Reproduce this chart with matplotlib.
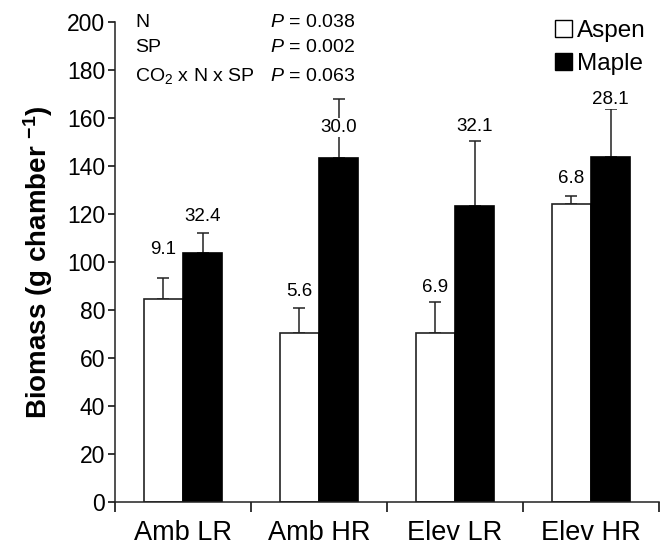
import numpy as np
import matplotlib
matplotlib.use("Agg")
import matplotlib.pyplot as plt
from matplotlib.patches import Patch

plt.rcParams['font.family'] = ['Liberation Sans', 'DejaVu Sans']
plt.rcParams['mathtext.fontset'] = 'custom'
plt.rcParams['mathtext.rm'] = 'Liberation Sans'
plt.rcParams['mathtext.it'] = 'Liberation Sans:italic'
plt.rcParams['mathtext.bf'] = 'Liberation Sans:bold'

# data
categorias = ["Amb LR", "Amb HR", "Elev LR", "Elev HR"]
aspen = [84.5, 70.5, 70.5, 124.0]
aspen_err = [9.0, 10.2, 12.8, 3.6]
maple = [103.8, 143.2, 123.3, 143.7]
maple_err = [8.2, 24.8, 27.2, 20.2]
aspen_txt = ["9.1", "5.6", "6.9", "6.8"]
maple_txt = ["32.4", "30.0", "32.1", "28.1"]
aspen_txt_y = [105, 87.5, 89.5, 134.7]
maple_txt_y = [118.8, 156, 156.4, 167.6]
stats_nombre = ["N", "SP", "CO$_2$ x N x SP"]
stats_p = ["0.038", "0.002", "0.063"]

fig = plt.figure(figsize=(6.67, 5.46), dpi=100)
ax = fig.add_axes([0.1724, 0.0806, 0.8156, 0.8791])

x = np.arange(len(categorias))
w = 0.29
ax.bar(x - w/2, aspen, w, color="white", edgecolor="#222222", linewidth=1.2, zorder=2)
ax.bar(x + w/2, maple, w, color="black", edgecolor="black", linewidth=1.2, zorder=2)
ax.errorbar(x - w/2, aspen, yerr=[np.zeros(4), aspen_err], fmt="none",
            ecolor="#222222", elinewidth=1.1, capsize=4, capthick=1.1, zorder=1)
ax.errorbar(x + w/2, maple, yerr=[np.zeros(4), maple_err], fmt="none",
            ecolor="#222222", elinewidth=1.1, capsize=4, capthick=1.1, zorder=1)

for i in range(4):
    ax.text(x[i] - w/2, aspen_txt_y[i], aspen_txt[i], ha="center", va="center", fontsize=13.5)
    ax.text(x[i] + w/2, maple_txt_y[i], maple_txt[i], ha="center", va="center", fontsize=13.5,
            bbox=dict(facecolor="white", edgecolor="none", pad=0.5), zorder=3)

# stats text
ys = [200, 189.5, 177.5]
for i in range(3):
    ax.text(0.037, ys[i], stats_nombre[i], transform=ax.get_yaxis_transform(),
            ha="left", va="center", fontsize=14)
    ax.text(0.441, ys[i], "$P$ = " + stats_p[i], transform=ax.get_yaxis_transform(),
            ha="right", va="center", fontsize=14)

ax.set_xlim(-0.5, 3.5)
ax.set_ylim(0, 200)
ax.set_yticks(np.arange(0, 201, 20))
ax.set_xticks(x)
ax.set_xticklabels(categorias, fontsize=19.5)
ax.set_xticks(np.arange(-0.5, 3.6, 1), minor=True)
ax.tick_params(axis="x", which="major", length=0, pad=13)
ax.tick_params(axis="x", which="minor", length=7, width=1.1, direction="out")
ax.tick_params(axis="y", labelsize=16.5, length=5, width=1.1, direction="out", pad=2)
for s in ["top", "right"]:
    ax.spines[s].set_visible(False)
for s in ["left", "bottom"]:
    ax.spines[s].set_linewidth(1.1)
    ax.spines[s].set_color("#222222")

ax.set_ylabel(r"Biomass (g chamber $^{\mathbf{-1}}$)", fontsize=20, fontweight="bold", labelpad=9)

handles = [Patch(facecolor="white", edgecolor="black", linewidth=1),
           Patch(facecolor="black", edgecolor="black", linewidth=1)]
ax.legend(handles, ["Aspen", "Maple"], loc="upper right", bbox_to_anchor=(1.015, 1.05),
          frameon=False, fontsize=17.5, handlelength=0.7, handleheight=0.7,
          handletextpad=0.2, labelspacing=0.45)

fig.savefig("out.png", dpi=100)
